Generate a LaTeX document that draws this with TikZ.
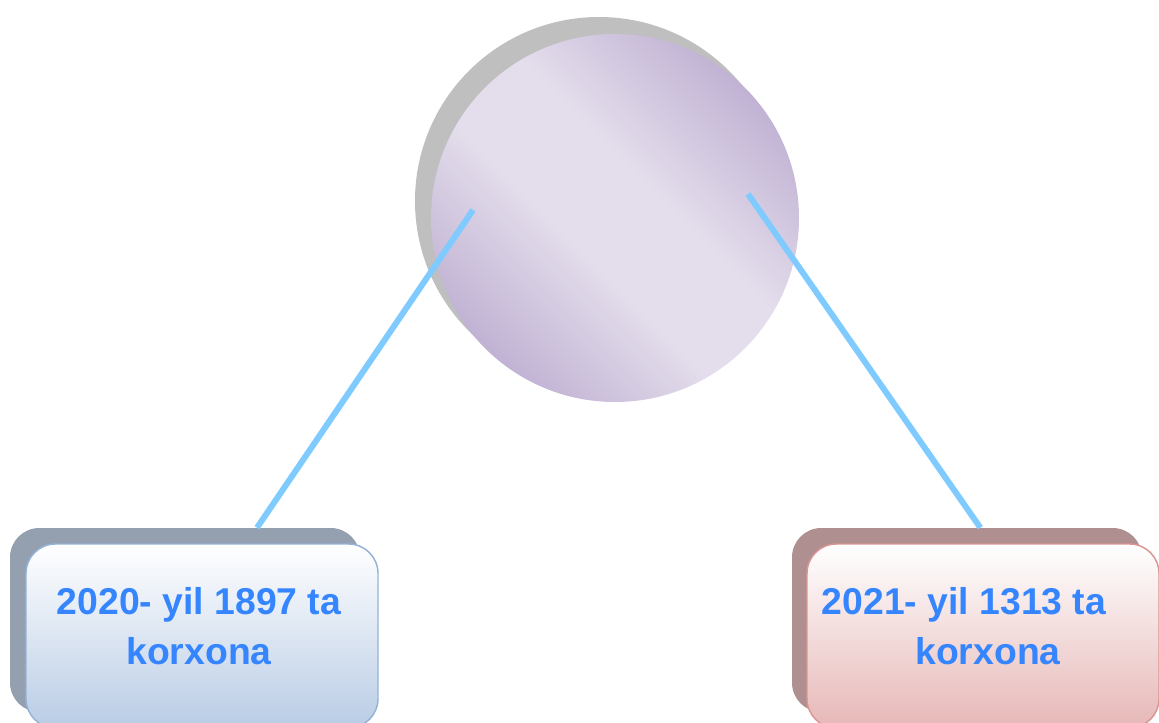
\documentclass[tikz,border=0pt]{standalone}
\usepackage{fontspec}
\setmainfont{Liberation Sans}
\usetikzlibrary{positioning}
\usetikzlibrary{shapes}

\definecolor{shadowgrey}{HTML}{BFBFBF}
\definecolor{coredark}{HTML}{BFB0D2}
\definecolor{corelight}{HTML}{E4DEEC}
\definecolor{linkblue}{HTML}{7FCAFF}
\definecolor{textblue}{HTML}{3585FF}
\definecolor{leftback}{HTML}{94A0AF}
\definecolor{leftedge}{HTML}{95B3D7}
\definecolor{leftfill}{HTML}{B9CCE5}
\definecolor{rightback}{HTML}{AF8F8F}
\definecolor{rightedge}{HTML}{DA9694}
\definecolor{rightfill}{HTML}{E6B8B7}
\pgfdeclareverticalshading{coreshade}{100bp}{color(0bp)=(coredark); color(24bp)=(coredark); color(44bp)=(corelight); color(56bp)=(corelight); color(76bp)=(coredark); color(100bp)=(coredark)}

\begin{document}
\begin{tikzpicture}[x=0.75pt, y=0.75pt,
back/.style ={rectangle, rounded corners=22pt, minimum width=262.5pt, minimum height=138pt, inner sep=0pt},
box/.style ={rectangle, rounded corners=22pt, minimum width=264pt, minimum height=138pt, inner sep=0pt, line width=1.1pt},
caption/.style ={font=\bfseries\fontsize{28}{37.5}\selectfont, text=textblue, align=center, inner sep=0pt},
link/.style ={line width=4.5pt, color=linkblue}]
\useasboundingbox (0,0) rectangle (1159,722);
\node[circle, fill=shadowgrey, minimum size=276pt, inner sep=0pt] (CoreBack) at (599,521) {};
\node[circle, shading=coreshade, shading angle=-45, minimum size=276pt, inner sep=0pt] (Core) at (615,504) {};
\node[back, fill=leftback] (LeftBack) at (185,102) {};
\node[box, draw=leftedge, top color=white, bottom color=leftfill] (LeftBox) at ([shift={(17,-16)}]LeftBack.center) {};
\node[back, fill=rightback] (RightBack) at (967,102) {};
\node[box, draw=rightedge, top color=white, bottom color=rightfill] (RightBox) at ([shift={(16,-16)}]RightBack.center) {};
\node[caption] (LeftText) at (199,96) {2020- yil 1897 ta\\korxona};
\node[caption] (RightText) at (988,96) {2021- yil 1313 ta\hspace*{36pt}\\korxona};
\coordinate (LeftEnd) at (473,512);
\coordinate (RightEnd) at (748,528);
\draw[link] (LeftEnd) -- ([xshift=54pt]LeftBack.north);
\draw[link] (RightEnd) -- ([xshift=10pt]RightBack.north);
\end{tikzpicture}
\end{document}
